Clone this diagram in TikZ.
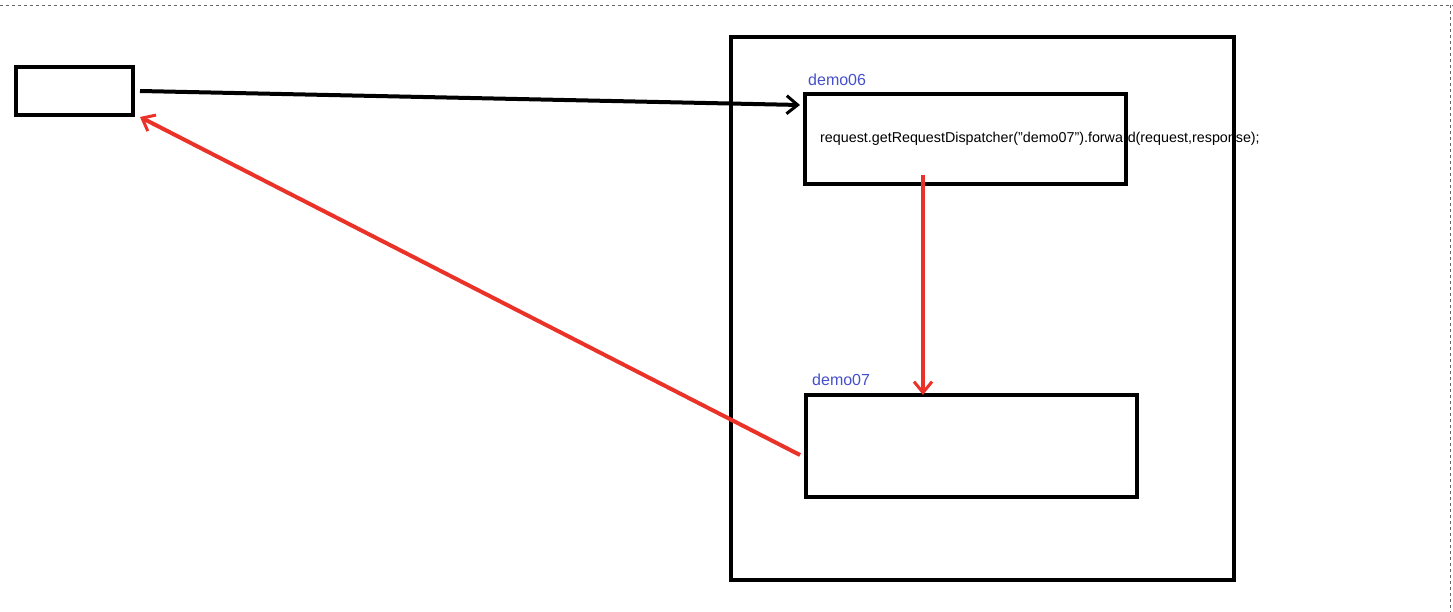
\documentclass[tikz,border=0pt]{standalone}
\usepackage{fontspec}
\setmainfont{Liberation Sans}
\usetikzlibrary{arrows.meta}
\definecolor{lbl}{RGB}{70,80,200}
\definecolor{rd}{RGB}{235,50,40}
\begin{document}
\begin{tikzpicture}[x=1pt,y=-1pt,
  box/.style={draw=black,line width=4pt,inner sep=0pt},
  arr/.style={line width=4pt,-{Straight Barb[length=11pt,width=18pt,line width=3pt]}},
  lab/.style={text=lbl,font=\fontsize{16}{18}\selectfont,anchor=base west,inner sep=0pt}]
\useasboundingbox (0,0) rectangle (1453,612);
\draw[dashed,gray!80!black] (0,5) -- (1453,5);
\draw[dashed,gray!80!black] (1450,5) -- (1450,612);
\node[box,minimum width=117pt,minimum height=48pt] (client) at (74.5,91) {};
\node[box,minimum width=503pt,minimum height=543pt] (server) at (982.5,308.5) {};
\node[box,minimum width=321pt,minimum height=90pt] (d6) at (965.5,139) {};
\node[box,minimum width=331pt,minimum height=102pt] (d7) at (971.5,446) {};
\node[lab] (l6) at (808,86) {demo06};
\node[lab] (l7) at (812,385) {demo07};
\node[anchor=base west,inner sep=0pt,font=\fontsize{14.3}{16}\selectfont] (code) at (820,143) {request.getRequestDispatcher("demo07").forward(request,response);};
\coordinate (a1) at (140,91);
\coordinate (a2) at (800,105);
\coordinate (b1) at (923,175);
\coordinate (b2) at (923,395);
\coordinate (c1) at (800,455);
\coordinate (c2) at (140,117);
\draw[arr] (a1) -- (a2);
\draw[arr,rd] (b1) -- (b2);
\draw[arr,rd] (c1) -- (c2);
\end{tikzpicture}
\end{document}
